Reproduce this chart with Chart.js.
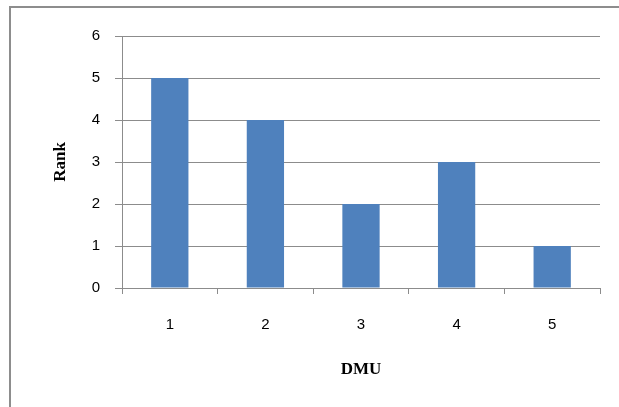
<!DOCTYPE html>
<html>
<head>
<meta charset="utf-8">
<script src="https://cdn.jsdelivr.net/npm/chart.js@4"></script>
<style>
  html, body { margin: 0; padding: 0; background: #fff; overflow: hidden; }
  #wrap { position: relative; width: 619px; height: 407px; }
  #frame { position: absolute; left: 9px; top: 6px; width: 620px; height: 420px;
           border: 2px solid #8d8d8d; box-sizing: border-box; }
  canvas { position: absolute; left: 0; top: 0; }
</style>
</head>
<body>
<div id="wrap">
  <div id="frame"></div>
  <canvas id="chart" width="619" height="407"></canvas>
</div>
<script>
// data
const dmus = ["1", "2", "3", "4", "5"];
const ranks = [5, 4, 2, 3, 1];
const yTicks = [0, 1, 2, 3, 4, 5, 6];

const gridColor = "#8c8c8c";
const tickFont = { family: "Liberation Sans", size: 15 };
const titleFont = { family: "Liberation Serif", size: 17, weight: "bold" };

const ctx = document.getElementById("chart").getContext("2d");
new Chart(ctx, {
  type: "bar",
  data: {
    labels: dmus,
    datasets: [{
      data: ranks,
      backgroundColor: "#4f81bd",
      borderWidth: 0,
      barPercentage: 0.39,
      categoryPercentage: 1.0
    }]
  },
  options: {
    responsive: false,
    animation: false,
    events: [],
    layout: { padding: { left: 0, top: 36, right: 19, bottom: 0 } },
    plugins: { legend: { display: false }, tooltip: { enabled: false } },
    scales: {
      x: {
        offset: true,
        grid: { display: true, offset: true, drawOnChartArea: false, drawTicks: true,
                tickLength: 6, color: gridColor },
        border: { color: gridColor },
        ticks: { font: tickFont, color: "#000", padding: 22 },
        title: { display: true, text: "DMU", font: titleFont, color: "#000",
                 padding: { top: 0, bottom: 27 } },
        afterFit: (scale) => { scale.height = 119; }
      },
      y: {
        min: 0,
        max: 6,
        afterBuildTicks: (scale) => { scale.ticks = yTicks.map(v => ({ value: v })); },
        grid: { color: gridColor, tickLength: 7 },
        border: { color: gridColor },
        ticks: { font: tickFont, color: "#000", padding: 15 },
        title: { display: true, text: "Rank", font: titleFont, color: "#000",
                 padding: { top: 50, bottom: 0 } },
        afterFit: (scale) => { scale.width = 122; }
      }
    }
  }
});
</script>
</body>
</html>
